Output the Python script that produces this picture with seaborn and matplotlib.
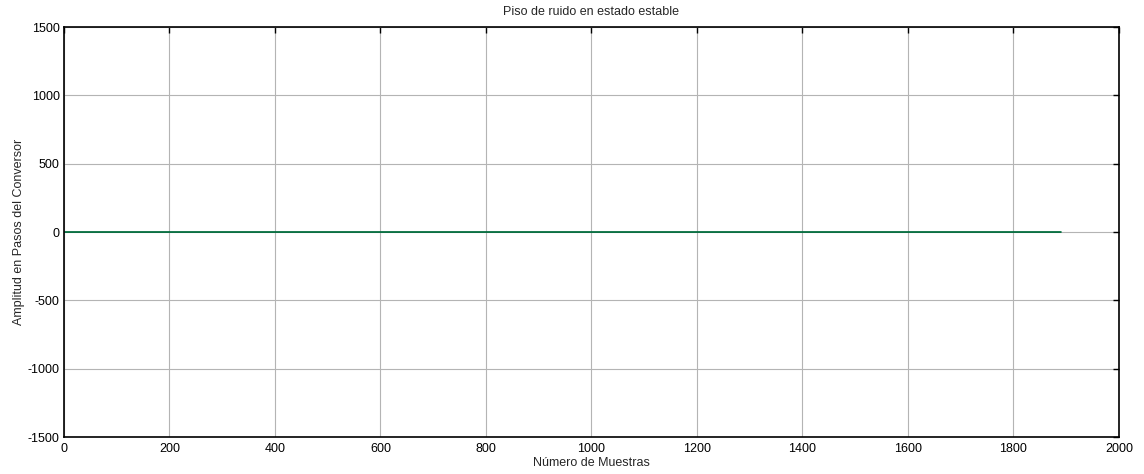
import numpy as np
import pandas as pd
import matplotlib
matplotlib.use("Agg")
import matplotlib.pyplot as plt
import seaborn as sns

# Steady-state noise floor: flat at zero for every sample
n_samples = 1890
amplitude = np.zeros(n_samples)
samples = np.arange(1, n_samples + 1)

x_ticks = [0, 200, 400, 600, 800, 1000, 1200, 1400, 1600, 1800, 2000]
y_ticks = [-1500, -1000, -500, 0, 500, 1000, 1500]

df = pd.DataFrame({"muestra": samples, "amplitud": amplitude})

sns.set_style("white")
plt.rcParams['font.family'] = ['Liberation Sans', 'DejaVu Sans']
plt.rcParams['axes.unicode_minus'] = False

fig = plt.figure(figsize=(11.44, 4.74), dpi=100)
ax = fig.add_axes([0.0559, 0.078, 0.9222, 0.865])

sns.lineplot(data=df, x="muestra", y="amplitud", ax=ax, color="#006b3c", linewidth=1.3)

ax.set_xlim(0, 2000)
ax.set_ylim(-1500, 1500)
ax.set_xticks(x_ticks)
ax.set_yticks(y_ticks)
ax.grid(True, linestyle="-", color="#b4b4b4", linewidth=0.8)
ax.set_axisbelow(True)
ax.tick_params(direction="in", length=4, width=1.0, top=True, right=True,
               labelsize=9, colors="black")
ax.tick_params(axis="x", pad=4)
ax.tick_params(axis="y", pad=3)
for s in ax.spines.values():
    s.set_color("black")
    s.set_linewidth(1.2)

ax.set_title("Piso de ruido en estado estable", fontsize=9, pad=9)
ax.set_xlabel("Número de Muestras", fontsize=9, labelpad=2)
ax.set_ylabel("Amplitud en Pasos del Conversor", fontsize=9, labelpad=2)

fig.savefig("out.png", dpi=100)
